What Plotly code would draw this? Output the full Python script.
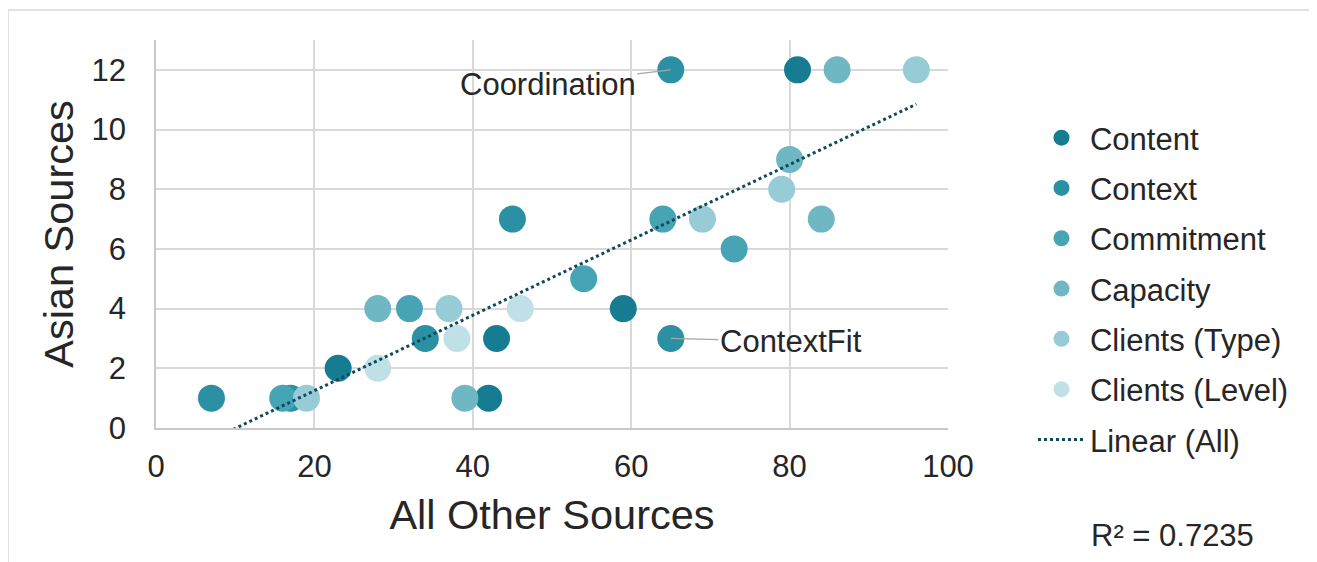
import numpy as np
import plotly.graph_objects as go

series_names = ["Content", "Context", "Commitment", "Capacity", "Clients (Type)", "Clients (Level)"]
series_colors = ["#167c91", "#2b90a3", "#47a4b5", "#6fb7c3", "#97cbd6", "#bfe0e6"]

content_x = [81, 59, 43, 23, 42]
content_y = [12, 4, 3, 2, 1]
context_x = [65, 45, 65, 34, 7, 17]
context_y = [12, 7, 3, 3, 1, 1]
commitment_x = [64, 73, 54, 32, 16]
commitment_y = [7, 6, 5, 4, 1]
capacity_x = [86, 80, 84, 28, 39]
capacity_y = [12, 9, 7, 4, 1]
clients_type_x = [96, 79, 69, 37, 19]
clients_type_y = [12, 8, 7, 4, 1]
clients_level_x = [46, 38, 28]
clients_level_y = [4, 3, 2]

xs = [content_x, context_x, commitment_x, capacity_x, clients_type_x, clients_level_x]
ys = [content_y, context_y, commitment_y, capacity_y, clients_type_y, clients_level_y]

x_ticks = [0, 20, 40, 60, 80, 100]
y_ticks = [0, 2, 4, 6, 8, 10, 12]

FONT = "Liberation Sans, Arial, sans-serif"
TXT = "#262626"
FS = 31

fig = go.Figure()
for i, (name, col) in enumerate(zip(series_names, series_colors)):
    fig.add_trace(go.Scatter(
        x=xs[i], y=ys[i], mode="markers", name=name,
        marker=dict(color=col, size=27, line=dict(width=0)),
        legendgroup=f"g{i}",
    ))

all_x = np.concatenate([np.array(a, float) for a in xs])
all_y = np.concatenate([np.array(a, float) for a in ys])
slope, intercept = np.polyfit(all_x, all_y, 1)
lx = np.array([all_x.min(), all_x.max()])
fig.add_trace(go.Scatter(
    x=lx, y=slope * lx + intercept, mode="lines", name="Linear (All)",
    line=dict(color="#0f4a5c", width=3, dash="dot"),
    legendgroup="g6",
))

fig.add_annotation(x=65, y=12, xref="x", yref="y", text="Coordination",
                   showarrow=True, arrowhead=0, arrowwidth=1.3, arrowcolor="#a6a6a6",
                   ax=-123, ay=15, standoff=0,
                   font=dict(family=FONT, size=FS, color=TXT))
fig.add_annotation(x=65, y=3, xref="x", yref="y", text="ContextFit",
                   showarrow=True, arrowhead=0, arrowwidth=1.3, arrowcolor="#a6a6a6",
                   ax=120, ay=3, standoff=0,
                   font=dict(family=FONT, size=FS, color=TXT))
fig.add_annotation(x=(1172 - 156) / 792, y=(428 - 535) / 388, xref="paper", yref="paper",
                   xanchor="center", yanchor="middle",
                   text="R² = 0.7235", showarrow=False,
                   font=dict(family=FONT, size=FS, color=TXT))

fig.add_shape(type="rect", xref="paper", yref="paper",
              x0=(8 - 156) / 792, x1=(1310 - 156) / 792,
              y0=-0.4, y1=(428 - 10) / 388,
              line=dict(color="#d9d9d9", width=1.5), layer="below")

fig.update_layout(
    width=1309, height=554,
    margin=dict(l=148, r=369, t=32, b=134, autoexpand=False),
    paper_bgcolor="white", plot_bgcolor="white",
    font=dict(family=FONT, size=FS, color=TXT),
    showlegend=True,
    legend=dict(x=1.1073, y=0.817, xanchor="left", yanchor="top",
                font=dict(family=FONT, size=FS, color=TXT),
                itemwidth=47,
                tracegroupgap=7, bgcolor="rgba(0,0,0,0)"),
)
fig.update_xaxes(range=[0, 100], tickvals=x_ticks, showgrid=True, gridcolor="#d9d9d9", gridwidth=1.5,
                 showline=True, linecolor="#c8c8c8", linewidth=1.5, zeroline=False,
                 ticklabelstandoff=10, tickfont=dict(size=FS),
                 title=dict(text="All Other Sources", font=dict(size=41.5), standoff=17))
fig.update_yaxes(range=[0, 13], tickvals=y_ticks, showgrid=True, gridcolor="#d9d9d9", gridwidth=1.5,
                 showline=True, linecolor="#c8c8c8", linewidth=1.5, zeroline=False,
                 ticklabelstandoff=22, tickfont=dict(size=FS),
                 title=dict(text="Asian Sources", font=dict(size=41.5), standoff=5))

fig.write_html("out.html")
